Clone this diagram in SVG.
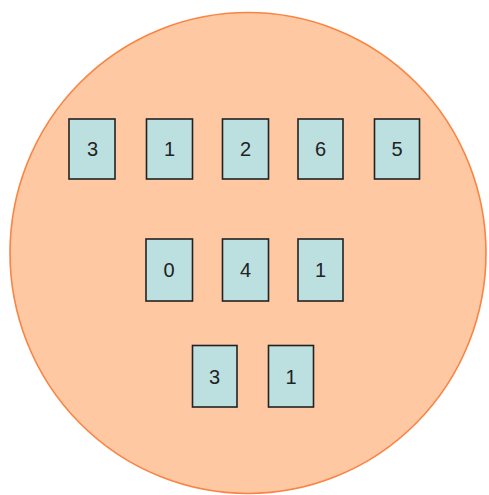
<svg xmlns="http://www.w3.org/2000/svg" width="489" height="495" viewBox="0 0 489 495">
<style>
.card rect{fill:#bcdfe0;stroke:#222;stroke-width:1.6}
.card text{font-family:"Liberation Sans",Arial,sans-serif;font-size:20px;fill:#222;text-anchor:middle}
</style>
<rect width="489" height="495" fill="#fff"/>
<g id="set">
<ellipse cx="248" cy="253" rx="238" ry="240.5" fill="#fec8a2" stroke="#f98443" stroke-width="1.6"/>
</g>
<g id="n1" class="card"><rect x="69" y="119" width="46" height="60"/><text x="92.5" y="155.5">3</text></g>
<g id="n2" class="card"><rect x="146.5" y="119" width="46" height="60"/><text x="169.5" y="155.5">1</text></g>
<g id="n3" class="card"><rect x="222.5" y="119" width="46" height="60"/><text x="245.5" y="155.5">2</text></g>
<g id="n4" class="card"><rect x="298" y="119" width="45" height="60"/><text x="320.5" y="155.5">6</text></g>
<g id="n5" class="card"><rect x="374.5" y="119" width="45" height="60"/><text x="397" y="155.5">5</text></g>
<g id="n6" class="card"><rect x="146" y="239" width="46.5" height="62"/><text x="169" y="277">0</text></g>
<g id="n7" class="card"><rect x="222.5" y="239" width="46" height="62"/><text x="245.5" y="277">4</text></g>
<g id="n8" class="card"><rect x="298" y="239" width="45" height="62"/><text x="320.5" y="277">1</text></g>
<g id="n9" class="card"><rect x="192.5" y="345.5" width="44.5" height="61.5"/><text x="214.5" y="383.5">3</text></g>
<g id="n10" class="card"><rect x="268.5" y="345.5" width="45" height="61.5"/><text x="291" y="383.5">1</text></g>
<g id="connectors"/>
</svg>
